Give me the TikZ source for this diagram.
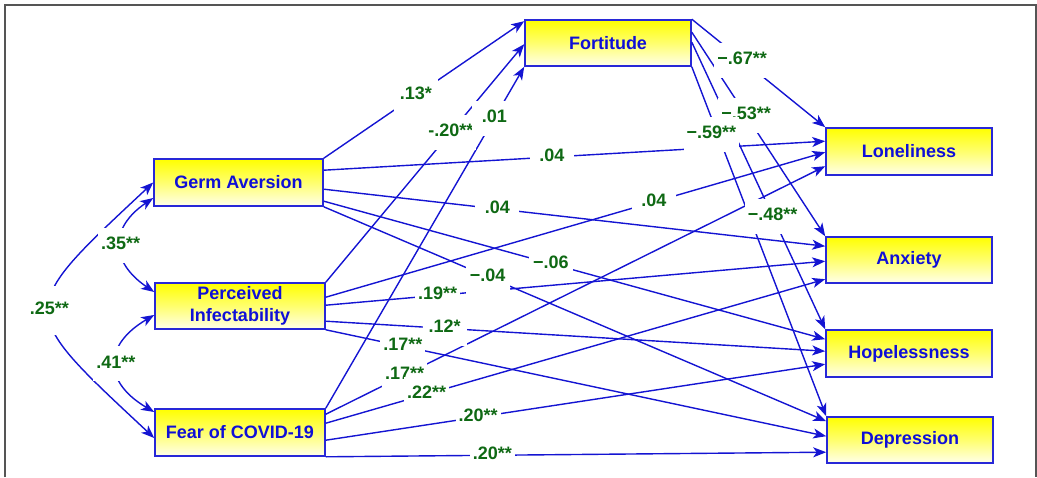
\documentclass[tikz,border=0pt]{standalone}
\usepackage{fontspec}
\setmainfont{Liberation Sans}
\usetikzlibrary{arrows.meta}
\definecolor{eblue}{RGB}{20,20,210}
\definecolor{bblue}{RGB}{40,40,215}
\definecolor{tblue}{RGB}{15,15,215}
\definecolor{lgreen}{RGB}{15,105,20}
\definecolor{frameg}{RGB}{85,85,85}
\definecolor{ylw}{RGB}{255,255,0}
\definecolor{ylwm}{RGB}{255,255,110}
\definecolor{ylwb}{RGB}{255,255,235}
\tikzset{
  box/.style={draw=bblue, line width=1.6pt, top color=ylw, bottom color=ylwb, middle color=ylwm,
    text=tblue, font=\fontsize{18}{22}\selectfont\bfseries, align=center, inner sep=0pt, minimum height=46pt},
  tip/.tip={Stealth[length=13pt,width=10pt,inset=3.5pt]},
  arr/.style={draw=eblue, line width=1.4pt, -tip},
  cov/.style={draw=eblue, line width=1.4pt, tip-tip},
  lbl/.style={fill=white, text=lgreen, font=\fontsize{18}{22}\selectfont\bfseries, inner xsep=3pt,
    inner ysep=9pt, text height=13pt, text depth=4pt, minimum width=44pt},
}
\begin{document}
\begin{tikzpicture}[x=1pt,y=-1pt]
\useasboundingbox (0,0) rectangle (1037,477);
\draw[frameg, line width=2pt] (5,477) -- (5,5) -- (1036,5) -- (1036,477);

% nodes
\node[box, minimum width=169pt, minimum height=47pt] (ga) at (238.5,182.5) {Germ Aversion};
\node[box, minimum width=170pt] (pi) at (240,306) {Perceived\\Infectability};
\node[box, minimum width=170pt, minimum height=47pt] (fc) at (240,432.5) {Fear of COVID-19};
\node[box, minimum width=166pt] (fo) at (608,43) {Fortitude};
\node[box, minimum width=166pt, minimum height=47pt] (lo) at (909,151.5) {Loneliness};
\node[box, minimum width=166pt] (ax) at (909,260) {Anxiety};
\node[box, minimum width=166pt, minimum height=47pt] (hp) at (909,353.5) {Hopelessness};
\node[box, minimum width=166pt] (dp) at (910,440) {Depression};

% covariances
\draw[cov] ([yshift=-15.5pt]ga.west) .. controls +(-44,30) and +(-44,-30) .. ([yshift=14pt]pi.west) coordinate[pos=.5] (c35);
\draw[cov] ([yshift=-9pt]pi.west) .. controls +(-51,30) and +(-51,-30) .. ([yshift=20.5pt]fc.west) coordinate[pos=.5] (c41);
\draw[cov] (ga.west) .. controls +(-139,130) and +(-139,-130) .. ([yshift=-5.5pt]fc.west) coordinate[pos=.5] (c25);

% to Fortitude
\draw[arr] (ga.north east) -- ([yshift=-2pt]fo.north west) coordinate[pos=.46] (l1);
\draw[arr] (pi.north east) -- ([yshift=-25pt]fo.north west) coordinate[pos=.63] (l2);
\draw[arr] (fc.north east) -- (fo.south west) coordinate[pos=.85] (l3);

% from Fortitude
\draw[arr] (fo.north east) -- (lo.north west) coordinate[pos=.378] (l4);
\draw[arr] ([yshift=-13pt]fo.north east) -- (ax.north west) coordinate[pos=.407] (l5);
\draw[arr] ([yshift=-23pt]fo.north east) -- (hp.north west) coordinate[pos=.606] (l6);
\draw[arr] (fo.south east) -- (dp.north west) coordinate[pos=.19] (l7);

% from Germ Aversion
\draw[arr] ([yshift=-12pt]ga.north east) -- ([yshift=-14pt]lo.north west) coordinate[pos=.455] (l8);
\draw[arr] ([yshift=-31pt]ga.north east) -- ([yshift=-10pt]ax.north west) coordinate[pos=.346] (l9);
\draw[arr] ([yshift=-43pt]ga.north east) -- ([yshift=-10pt]hp.north west) coordinate[pos=.453] (l10);
\draw[arr] (ga.south east) -- ([yshift=-5pt]dp.north west) coordinate[pos=.326] (l11);

% from Perceived Infectability
\draw[arr] ([yshift=-15pt]pi.north east) -- ([yshift=-25pt]lo.north west) coordinate[pos=.657] (l12);
\draw[arr] ([yshift=-23pt]pi.north east) -- ([yshift=-25pt]ax.north west) coordinate[pos=.224] (l13);
\draw[arr] ([yshift=-39pt]pi.north east) -- ([yshift=-22pt]hp.north west) coordinate[pos=.238] (l14);
\draw[arr] (pi.south east) -- ([yshift=-20pt]dp.north west) coordinate[pos=.154] (l15);

% from Fear of COVID-19
\draw[arr] ([yshift=-6pt]fc.north east) -- ([yshift=-39pt]lo.north west) coordinate[pos=.158] (l16);
\draw[arr] ([yshift=-15pt]fc.north east) -- ([yshift=-43pt]ax.north west) coordinate[pos=.202] (l17);
\draw[arr] ([yshift=-32pt]fc.north east) -- ([yshift=-35pt]hp.north west) coordinate[pos=.305] (l18);
\draw[arr] (fc.south east) -- ([yshift=-36pt]dp.north west) coordinate[pos=.333] (l19);

% labels
\node[lbl] (t35) at (c35) {.35**};
\node[lbl] (t41) at (c41) {.41**};
\node[lbl, inner ysep=16pt] (t25) at (c25) {.25**};
\node[lbl] (t1) at (l1) {.13*};
\node[lbl] (t2) at (l2) {-.20**};
\node[lbl] (t3) at (l3) {.01};
\node[lbl] (t4) at (l4) {−.67**};
\node[lbl] (t5) at (l5) {−.53**};
\node[lbl] (t6) at (l6) {−.48**};
\node[lbl, xshift=-6pt, yshift=-1pt] (t7) at (l7) {−.59**};
\node[lbl] (t8) at (l8) {.04};
\node[lbl] (t9) at (l9) {.04};
\node[lbl] (t10) at (l10) {−.06};
\node[lbl] (t11) at (l11) {−.04};
\node[lbl] (t12) at (l12) {.04};
\node[lbl] (t13) at (l13) {.19**};
\node[lbl] (t14) at (l14) {.12*};
\node[lbl] (t15) at (l15) {.17**};
\node[lbl] (t16) at (l16) {.17**};
\node[lbl] (t17) at (l17) {.22**};
\node[lbl] (t18) at (l18) {.20**};
\node[lbl] (t19) at (l19) {.20**};
\end{tikzpicture}
\end{document}
